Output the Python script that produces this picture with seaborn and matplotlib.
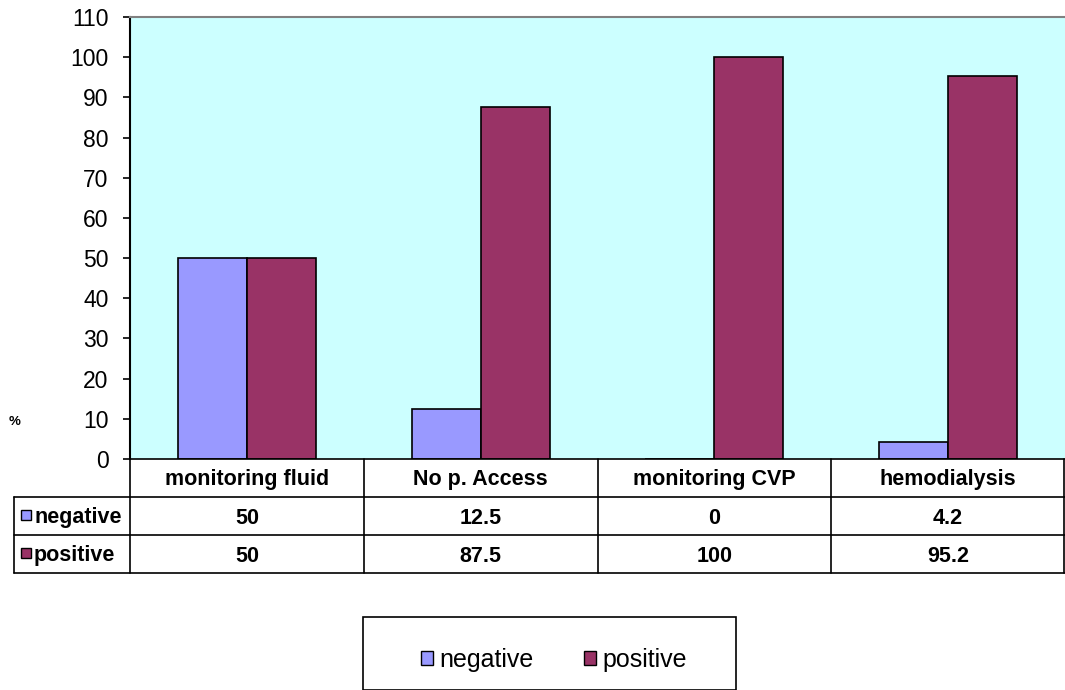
import matplotlib
matplotlib.use("Agg")
import matplotlib.pyplot as plt
import seaborn as sns
import pandas as pd
from matplotlib.patches import Rectangle
from matplotlib.lines import Line2D

categories = ["monitoring fluid", "No p. Access", "monitoring CVP", "hemodialysis"]
series_names = ["negative", "positive"]
negative = [50, 12.5, 0, 4.2]
positive = [50, 87.5, 100, 95.2]
negative_labels = ["50", "12.5", "0", "4.2"]
positive_labels = ["50", "87.5", "100", "95.2"]
yticks = list(range(0, 111, 10))

colors = {"negative": "#9999FF", "positive": "#993366"}

df = pd.DataFrame({
    "category": categories * 2,
    "series": ["negative"] * 4 + ["positive"] * 4,
    "value": negative + positive,
})

sns.set_theme(style="white")
plt.rcParams["font.family"] = ["Liberation Sans", "DejaVu Sans"]
plt.rcParams["text.color"] = "black"
plt.rcParams["ytick.color"] = "black"
plt.rcParams["ytick.labelcolor"] = "black"

W, H = 1065, 690
fig = plt.figure(figsize=(W / 100, H / 100), dpi=100)

def fx(x):
    return x / W

def fy(y):
    return 1 - y / H

ax_l, ax_r, ax_t, ax_b = 130, 1065, 17, 459
ax = fig.add_axes([fx(ax_l), fy(ax_b), fx(ax_r - ax_l), (ax_b - ax_t) / H])
ax.set_facecolor("#CCFFFF")

sns.barplot(data=df, x="category", y="value", hue="series", palette=colors,
            order=categories, hue_order=series_names, width=0.59, gap=0,
            saturation=1, edgecolor="black", linewidth=1.2, ax=ax, legend=True)

ax.set_ylim(0, 110)
ax.set_xlim(-0.5, 3.5)
ax.set_yticks(yticks)
ax.set_yticklabels([str(t) for t in yticks], fontsize=16.5)
ax.tick_params(axis="y", which="both", left=True, length=5, width=1.2, color="black", pad=10.5)
ax.set_xticks([])
ax.set_xlabel("")
ax.set_ylabel("")
ax.spines["left"].set_color("black")
ax.spines["left"].set_linewidth(1.5)
ax.spines["top"].set_color("#808080")
ax.spines["top"].set_linewidth(1.5)
ax.spines["right"].set_visible(False)
ax.spines["bottom"].set_color("black")
ax.spines["bottom"].set_linewidth(1.2)

handles, labels = ax.get_legend_handles_labels()
ax.get_legend().remove()

# % label
fig.text(fx(15), fy(422), "%", fontsize=9.5, fontweight="bold", ha="center", va="center")

# table lines
lw = 1.2
def hline(y, x0, x1):
    fig.add_artist(Line2D([fx(x0), fx(x1)], [fy(y), fy(y)], color="black", lw=lw))

def vline(x, y0, y1):
    fig.add_artist(Line2D([fx(x), fx(x)], [fy(y0), fy(y1)], color="black", lw=lw))

col_w = (ax_r - ax_l) / len(categories)
col_x = [ax_l + i * col_w for i in range(len(categories) + 1)]
hline(497, 14, 1065)
hline(535, 14, 1065)
hline(573, 14, 1065)
vline(14, 497, 573)
for x in col_x[:-1]:
    vline(x, 459, 573)
vline(1064.4, 459, 573)

fs = 15.5
for i, cat in enumerate(categories):
    cx = (col_x[i] + col_x[i + 1]) / 2
    fig.text(fx(cx), fy(480), cat, fontsize=fs, fontweight="bold", ha="center", va="center")
    fig.text(fx(cx), fy(518), negative_labels[i], fontsize=fs, fontweight="bold", ha="center", va="center")
    fig.text(fx(cx), fy(556), positive_labels[i], fontsize=fs, fontweight="bold", ha="center", va="center")

for name, yc in zip(series_names, [515, 553]):
    fig.add_artist(Rectangle((fx(21), fy(yc + 5)), 10 / W, 10 / H, facecolor=colors[name],
                             edgecolor="black", lw=1, transform=fig.transFigure))
    fig.text(fx(34), fy(yc + 2), name, fontsize=fs, fontweight="bold", ha="left", va="center")

# legend box
fig.add_artist(Rectangle((fx(363), fy(690)), (736 - 363) / W, (690 - 617) / H, facecolor="white",
                         edgecolor="black", lw=1.2, transform=fig.transFigure))
leg = fig.legend(handles, labels, loc="center", bbox_to_anchor=(fx(554), fy(660)), ncol=2,
                 frameon=False, fontsize=18, handlelength=0.5, handleheight=0.5,
                 handletextpad=0.25, columnspacing=2.0, labelcolor="black")
for h in leg.legend_handles:
    h.set_edgecolor("black")
    h.set_linewidth(1)

fig.savefig("out.png", dpi=100)
